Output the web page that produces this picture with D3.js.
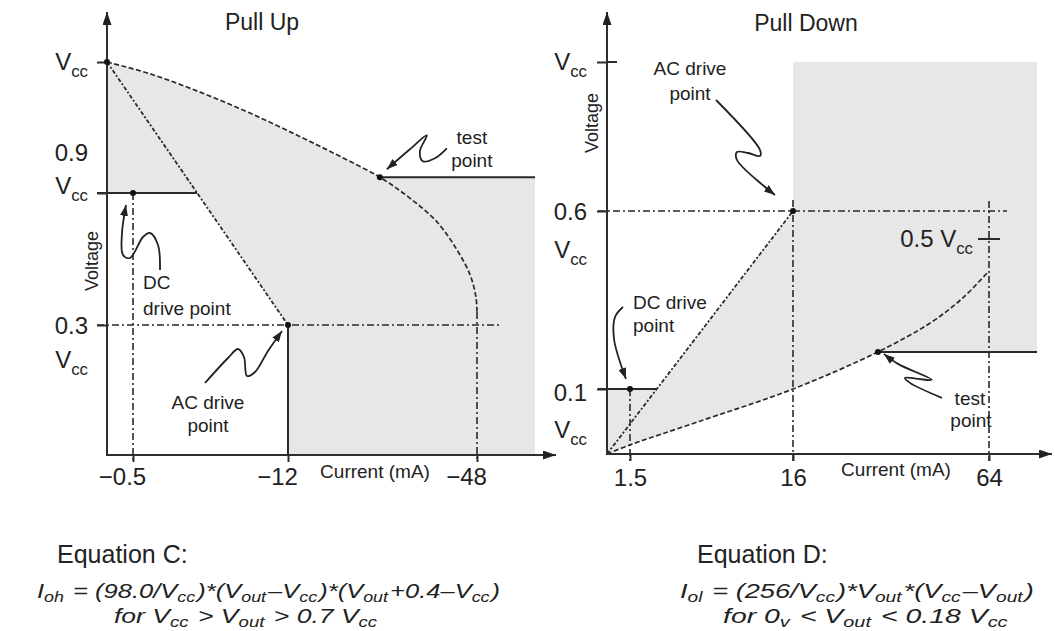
<!DOCTYPE html>
<html lang="en">
<head>
<meta charset="UTF-8">
<title>Pull Up / Pull Down drive points</title>
<script src="https://d3js.org/d3.v7.min.js"></script>
<style>
  body { margin: 0; background: #fff; }
  svg { display: block; font-family: "Liberation Sans", Arial, Helvetica, sans-serif; fill: #222; }
  .axis-line { stroke: #2e2e2e; stroke-width: 2; fill: none; }
  .ref { stroke: #2a2a2a; stroke-width: 1.6; stroke-dasharray: 7,3,2,3; fill: none; }
  .solid { stroke: #2a2a2a; stroke-width: 2; fill: none; }
  .curve { stroke: #2a2a2a; stroke-width: 1.7; stroke-dasharray: 5,2.5; fill: none; }
  .load { stroke: #2a2a2a; stroke-width: 1.8; stroke-dasharray: 4,2,2,2; fill: none; }
  .region { fill: #e7e7e7; stroke: none; }
  .squiggle { stroke: #222; stroke-width: 1.8; fill: none; }
  .tick line { stroke: #2e2e2e; stroke-width: 2; }
  .tick text { font-size: 24px; fill: #222; }
</style>
</head>
<body>
<svg id="chart" width="1055" height="631"></svg>
<script>
// ---------- data ----------
// Pull Up (current in mA, voltage as fraction of Vcc)
const upCurrentTicks = [-0.5, -12, -48];
const upVoltTicks = [1, 0.9, 0.3];
const upCurve = [[0, 1], [-1.76, 0.991], [-5.47, 0.977], [-9.18, 0.961], [-14.3, 0.943],
  [-21.9, 0.928], [-29.5, 0.912], [-35.2, 0.877], [-40.4, 0.768], [-44.2, 0.641],
  [-46.7, 0.527], [-47.8, 0.427], [-48, 0.359]];
const upTestIndex = 6;
const upDcPoint = [-0.5, 0.9];
const upAcPoint = [-12, 0.3];
const upRegionEnd = -59;

// Pull Down
const dnCurrentTicks = [1.5, 16, 64];
const dnVoltTicks = [1, 0.6, 0.1];
const dnCurve = [[0, 0], [1.5, 0.014], [7.46, 0.049], [16, 0.1], [36.8, 0.199],
  [49.6, 0.276], [57.6, 0.343], [63.5, 0.409]];
const dnTestIndex = 4;
const dnDcPoint = [1.5, 0.1];
const dnAcPoint = [16, 0.6];
const dnHalfVcc = 0.5;
const dnRegionEnd = 76;

// ---------- scales (schematic, not to scale -> piecewise) ----------
const xUp = d3.scaleLinear().domain([0, -0.5, -12, -48, -59, -63]).range([107, 133, 288, 477, 535, 556]);
const yUp = d3.scaleLinear().domain([0, 0.3, 0.9, 1, 1.1]).range([455, 325, 193, 62, 12]);
const xDn = d3.scaleLinear().domain([0, 1.5, 16, 64, 76, 79]).range([607, 630, 793, 989, 1037, 1052]);
const yDn = d3.scaleLinear().domain([0, 0.1, 0.5, 0.6, 1, 1.1]).range([454, 389, 239, 211, 62, 12]);

const svg = d3.select("#chart");

const defs = svg.append("defs");
function marker(id, w, h) {
  defs.append("marker").attr("id", id)
    .attr("viewBox", `0 0 ${w} ${h}`).attr("refX", w).attr("refY", h / 2)
    .attr("markerWidth", w).attr("markerHeight", h).attr("markerUnits", "userSpaceOnUse")
    .attr("orient", "auto")
    .append("path").attr("d", `M0,0L${w},${h / 2}L0,${h}Z`).attr("fill", "#222");
}
marker("axisArrow", 13, 9);
marker("noteArrow", 11, 8);

// text with subscripts: parts are strings, subscripts wrapped in arrays
function richText(parent, x, y, parts, size, anchor, italic, shiftK) {
  const t = parent.append("text").attr("x", x).attr("y", y)
    .attr("font-size", size).attr("text-anchor", anchor || "start");
  if (italic) t.attr("font-style", "italic");
  const shift = size * (shiftK || 0.28);
  let prevSub = false;
  parts.forEach(p => {
    const sub = Array.isArray(p);
    const ts = t.append("tspan").text(sub ? p[0] : p);
    if (sub) ts.attr("font-size", size * 0.7);
    if (sub !== prevSub) ts.attr("dy", sub ? shift : -shift);
    if (!sub && prevSub) ts.attr("dx", size * 0.08);
    prevSub = sub;
  });
  return t;
}
function vcc(parent, x, yc, anchor) {
  return richText(parent, x, yc + 8, ["V", ["cc"]], 24, anchor || "end");
}
function plain(parent, x, yc, s, size, anchor) {
  return parent.append("text").attr("x", x).attr("y", yc + size * 0.36)
    .attr("font-size", size).attr("text-anchor", anchor || "middle").text(s);
}
function squiggle(parent, px, py, offsets) {
  parent.append("path").attr("class", "squiggle")
    .attr("d", d3.line().curve(d3.curveCatmullRom.alpha(0.5))(offsets.map(o => [px + o[0], py + o[1]])))
    .attr("marker-end", "url(#noteArrow)");
}
function dot(parent, x, y) {
  parent.append("circle").attr("cx", x).attr("cy", y).attr("r", 3).attr("fill", "#111");
}
const fmt = d => d < 0 ? "\u2212" + Math.abs(d) : String(d);

// ================= Pull Up =================
(function () {
  const g = svg.append("g");
  const line = d3.line().x(d => xUp(d[0])).y(d => yUp(d[1]));
  const smooth = d3.line().x(d => xUp(d[0])).y(d => yUp(d[1])).curve(d3.curveCatmullRom.alpha(0.5));
  const test = upCurve[upTestIndex];

  // AC load line crossing 0.9 Vcc
  const p0 = [xUp(0), yUp(1)], p1 = [xUp(upAcPoint[0]), yUp(upAcPoint[1])];
  const t9 = (yUp(upDcPoint[1]) - p0[1]) / (p1[1] - p0[1]);
  const cross9 = [p0[0] + t9 * (p1[0] - p0[0]), yUp(upDcPoint[1])];

  // shaded region
  const region = smooth(upCurve.slice(0, upTestIndex + 1)) +
    "L" + [xUp(upRegionEnd), yUp(test[1])] +
    "L" + [xUp(upRegionEnd), yUp(0)] +
    "L" + [xUp(upAcPoint[0]), yUp(0)] +
    "L" + p1 + "L" + cross9 +
    "L" + [xUp(0), yUp(upDcPoint[1])] + "Z";
  g.append("path").attr("class", "region").attr("d", region);

  // reference lines
  g.append("line").attr("class", "ref")
    .attr("x1", xUp(0) - 10).attr("x2", xUp(-48) + 23).attr("y1", yUp(0.3)).attr("y2", yUp(0.3));
  g.append("line").attr("class", "ref")
    .attr("x1", xUp(upDcPoint[0])).attr("x2", xUp(upDcPoint[0])).attr("y1", yUp(upDcPoint[1])).attr("y2", yUp(0) + 7);
  const last = upCurve[upCurve.length - 1];
  g.append("line").attr("class", "ref")
    .attr("x1", xUp(last[0])).attr("x2", xUp(last[0])).attr("y1", yUp(last[1])).attr("y2", yUp(0) + 7);
  g.append("line").attr("class", "solid")
    .attr("x1", xUp(0) - 10).attr("x2", cross9[0]).attr("y1", cross9[1]).attr("y2", cross9[1]);
  g.append("line").attr("class", "solid")
    .attr("x1", xUp(test[0])).attr("x2", xUp(upRegionEnd)).attr("y1", yUp(test[1])).attr("y2", yUp(test[1]));
  g.append("line").attr("class", "solid")
    .attr("x1", p1[0]).attr("x2", p1[0]).attr("y1", p1[1]).attr("y2", yUp(0));

  // curves
  g.append("path").attr("class", "load").attr("d", line([[0, 1], upAcPoint]));
  g.append("path").attr("class", "curve").attr("d", smooth(upCurve));

  // axes
  g.append("line").attr("class", "axis-line").attr("x1", xUp(0)).attr("x2", xUp(0))
    .attr("y1", yUp(0)).attr("y2", yUp(1.1)).attr("marker-end", "url(#axisArrow)");
  g.append("line").attr("class", "axis-line").attr("x1", xUp(0) - 1).attr("x2", xUp(-63))
    .attr("y1", yUp(0)).attr("y2", yUp(0)).attr("marker-end", "url(#axisArrow)");
  g.append("g").attr("transform", `translate(0,${yUp(0)})`)
    .call(d3.axisBottom(xUp).tickValues(upCurrentTicks).tickSize(7).tickPadding(6).tickFormat(fmt))
    .call(a => a.select(".domain").remove())
    .call(a => a.selectAll("text").attr("dx", -11).attr("font-family", null));
  g.append("g").attr("transform", `translate(${xUp(0)},0)`)
    .call(d3.axisLeft(yUp).tickValues(upVoltTicks).tickSize(10).tickFormat(""))
    .call(a => a.select(".domain").remove());

  // y labels
  const lx = xUp(0) - 19;
  vcc(g, lx, yUp(1));
  plain(g, lx, yUp(0.9) - 41, "0.9", 24, "end");
  vcc(g, lx, yUp(0.9) - 7);
  plain(g, lx, yUp(0.3), "0.3", 24, "end");
  vcc(g, lx, yUp(0.3) + 35);

  // titles
  plain(g, 262, 22, "Pull Up", 23);
  plain(g, 375, 471, "Current (mA)", 19);
  g.append("text").attr("transform", `translate(${xUp(0) - 15},261) rotate(-90)`)
    .attr("font-size", 18).attr("text-anchor", "middle").attr("dy", "0.36em").text("Voltage");

  // points + annotations
  const tx = xUp(test[0]), ty = yUp(test[1]);
  const dx = xUp(upDcPoint[0]), dy = yUp(upDcPoint[1]);
  const ax = p1[0], ay = p1[1];
  dot(g, xUp(0), yUp(1)); dot(g, tx, ty); dot(g, dx, dy); dot(g, ax, ay);

  plain(g, tx + 92, ty - 40, "test", 19);
  plain(g, tx + 92, ty - 17, "point", 19);
  squiggle(g, tx, ty, [[67, -29], [55, -19], [43, -16], [40, -26], [47, -42], [30, -28], [7, -8]]);

  plain(g, dx + 10, dy + 89, "DC", 19, "start");
  plain(g, dx + 10, dy + 115, "drive point", 19, "start");
  squiggle(g, dx, dy, [[27, 77], [25, 52], [17, 40], [10, 44], [-3, 65], [-10, 62], [-11, 40], [-7, 12]]);

  plain(g, ax - 80, ay + 77, "AC drive", 19);
  plain(g, ax - 80, ay + 100, "point", 19);
  squiggle(g, ax, ay, [[-83, 58], [-60, 33], [-50, 24], [-44, 32], [-41, 51], [-33, 47], [-20, 26], [-6, 6]]);
})();

// ================= Pull Down =================
(function () {
  const g = svg.append("g");
  const line = d3.line().x(d => xDn(d[0])).y(d => yDn(d[1]));
  const smooth = d3.line().x(d => xDn(d[0])).y(d => yDn(d[1])).curve(d3.curveCatmullRom.alpha(0.5));
  const test = dnCurve[dnTestIndex];

  const p0 = [xDn(0), yDn(0)], p1 = [xDn(dnAcPoint[0]), yDn(dnAcPoint[1])];
  const t1 = (yDn(dnDcPoint[1]) - p0[1]) / (p1[1] - p0[1]);
  const cross1 = [p0[0] + t1 * (p1[0] - p0[0]), yDn(dnDcPoint[1])];

  const region = smooth(dnCurve.slice(0, dnTestIndex + 1)) +
    "L" + [xDn(dnRegionEnd), yDn(test[1])] +
    "L" + [xDn(dnRegionEnd), yDn(1)] +
    "L" + [p1[0], yDn(1)] +
    "L" + p1 + "L" + cross1 +
    "L" + [xDn(0), yDn(dnDcPoint[1])] + "Z";
  g.append("path").attr("class", "region").attr("d", region);

  // reference lines
  g.append("line").attr("class", "ref")
    .attr("x1", xDn(0) - 9).attr("x2", xDn(64) + 18).attr("y1", yDn(0.6)).attr("y2", yDn(0.6));
  g.append("line").attr("class", "ref")
    .attr("x1", xDn(dnDcPoint[0])).attr("x2", xDn(dnDcPoint[0])).attr("y1", yDn(dnDcPoint[1])).attr("y2", yDn(0) + 7);
  g.append("line").attr("class", "ref")
    .attr("x1", p1[0]).attr("x2", p1[0]).attr("y1", yDn(0.6) - 11).attr("y2", yDn(0) + 7);
  g.append("line").attr("class", "ref")
    .attr("x1", xDn(64)).attr("x2", xDn(64)).attr("y1", yDn(0.6) - 10).attr("y2", yDn(0) + 7);
  g.append("line").attr("class", "solid")
    .attr("x1", xDn(0) - 9).attr("x2", cross1[0]).attr("y1", cross1[1]).attr("y2", cross1[1]);
  g.append("line").attr("class", "solid")
    .attr("x1", xDn(test[0])).attr("x2", xDn(dnRegionEnd)).attr("y1", yDn(test[1])).attr("y2", yDn(test[1]));
  // 0.5 Vcc tick on the 64 mA line
  g.append("line").attr("class", "solid")
    .attr("x1", xDn(64) - 11).attr("x2", xDn(64) + 11).attr("y1", yDn(dnHalfVcc)).attr("y2", yDn(dnHalfVcc));
  richText(g, xDn(64) - 16, yDn(dnHalfVcc) + 8, ["0.5 V", ["cc"]], 24, "end");

  // curves
  g.append("path").attr("class", "load").attr("d", line([[0, 0], dnAcPoint]));
  g.append("path").attr("class", "curve").attr("d", smooth(dnCurve));

  // axes
  g.append("line").attr("class", "axis-line").attr("x1", xDn(0)).attr("x2", xDn(0))
    .attr("y1", yDn(0)).attr("y2", yDn(1.1)).attr("marker-end", "url(#axisArrow)");
  g.append("line").attr("class", "axis-line").attr("x1", xDn(0) - 1).attr("x2", xDn(79))
    .attr("y1", yDn(0)).attr("y2", yDn(0)).attr("marker-end", "url(#axisArrow)");
  g.append("g").attr("transform", `translate(0,${yDn(0)})`)
    .call(d3.axisBottom(xDn).tickValues(dnCurrentTicks).tickSize(7).tickPadding(8).tickFormat(fmt))
    .call(a => a.select(".domain").remove())
    .call(a => a.selectAll("text").attr("font-family", null));
  g.append("g").attr("transform", `translate(${xDn(0)},0)`)
    .call(d3.axisLeft(yDn).tickValues(dnVoltTicks).tickSize(10).tickFormat(""))
    .call(a => a.select(".domain").remove());
  g.append("line").attr("class", "solid")
    .attr("x1", xDn(0)).attr("x2", xDn(0) + 10).attr("y1", yDn(1)).attr("y2", yDn(1));

  const lx = xDn(0) - 20;
  vcc(g, lx, yDn(1));
  plain(g, lx, yDn(0.6), "0.6", 24, "end");
  vcc(g, lx, yDn(0.6) + 39);
  plain(g, lx, yDn(0.1) + 3, "0.1", 24, "end");
  vcc(g, lx, yDn(0.1) + 41);

  plain(g, 806, 23, "Pull Down", 23);
  plain(g, 896, 469, "Current (mA)", 19);
  g.append("text").attr("transform", `translate(${xDn(0) - 15},123) rotate(-90)`)
    .attr("font-size", 18).attr("text-anchor", "middle").attr("dy", "0.36em").text("Voltage");

  const tx = xDn(test[0]), ty = yDn(test[1]);
  const dx = xDn(dnDcPoint[0]), dy = yDn(dnDcPoint[1]);
  const ax = p1[0], ay = p1[1];
  dot(g, tx, ty); dot(g, dx, dy); dot(g, ax, ay);

  plain(g, ax - 103, ay - 143, "AC drive", 19);
  plain(g, ax - 103, ay - 118, "point", 19);
  squiggle(g, ax, ay, [[-77, -111], [-33, -61], [-33, -55], [-45, -58], [-56, -59], [-56, -51], [-18, -16]]);

  plain(g, dx + 3, dy - 87, "DC drive", 19, "start");
  plain(g, dx + 3, dy - 64, "point", 19, "start");
  squiggle(g, dx, dy, [[-7, -82], [-15, -72], [-16, -50], [-4, -10]]);

  plain(g, tx + 92, ty + 46, "test", 19);
  plain(g, tx + 93, ty + 68, "point", 19);
  squiggle(g, tx, ty, [[64, 46], [32, 31], [27, 26], [40, 27], [54, 28], [20, 12], [6, 2]]);
})();

// ================= Equations =================
function fitted(x, y, width, parts, size) {
  const t = richText(svg, 0, 0, parts, size, "start", true, 0.18);
  const len = t.node().getComputedTextLength();
  t.attr("transform", `translate(${x},${y}) scale(${width / len},1)`);
}
plain(svg, 57, 554, "Equation C:", 25, "start");
fitted(37, 598, 451, ["I", ["oh"], " = (98.0/V", ["cc"], ")*(V", ["out"], "\u2013V", ["cc"], ")*(V", ["out"], "+0.4\u2013V", ["cc"], ")"], 21);
fitted(114, 623, 259, ["for V", ["cc"], " > V", ["out"], " > 0.7 V", ["cc"]], 21);

plain(svg, 697, 554, "Equation D:", 25, "start");
fitted(680, 598, 343, ["I", ["ol"], " = (256/V", ["cc"], ")*V", ["out"], "*(V", ["cc"], "\u2013V", ["out"], ")"], 21);
fitted(723, 623, 280, ["for 0", ["v"], " < V", ["out"], " < 0.18 V", ["cc"]], 21);
</script>
</body>
</html>
